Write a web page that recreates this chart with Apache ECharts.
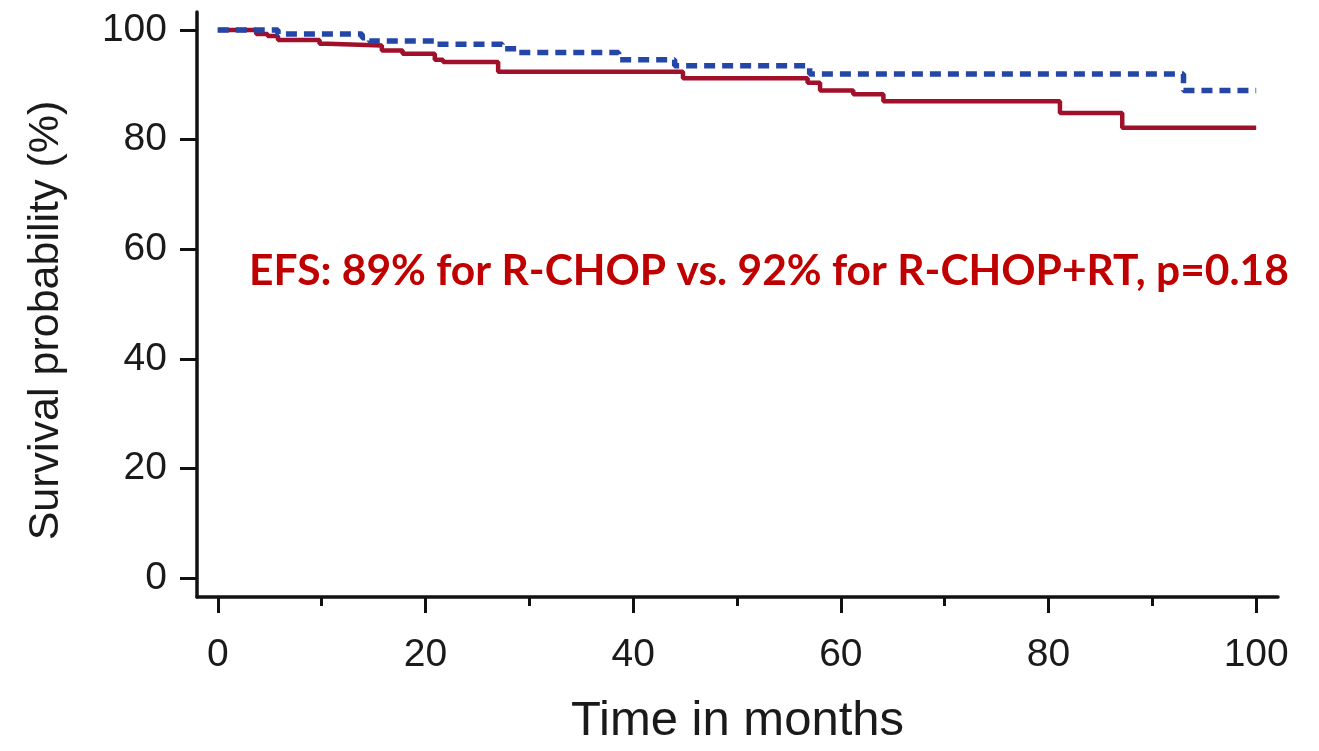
<!DOCTYPE html>
<html>
<head>
<meta charset="utf-8">
<script src="https://cdn.jsdelivr.net/npm/echarts@6/dist/echarts.min.js"></script>
<style>
  html, body { margin: 0; padding: 0; background: #ffffff; }
  #chart { width: 1319px; height: 751px; }
</style>
</head>
<body>
<div id="chart"></div>
<script>
// Kaplan–Meier event-free survival, step points: [month, survival %]
const rchopTimes = [0, 3.7, 4.8, 5.8, 9.8, 10.6, 15.8, 17.8, 20.9, 21.7, 27.0, 44.8, 56.8, 58.0, 61.2, 64.1, 81.1, 87.1, 100];
const rchopSurv  = [100, 99.3, 98.9, 98.2, 97.5, 97.2, 96.3, 95.7, 94.6, 94.2, 92.4, 91.2, 90.4, 89, 88.3, 87.0, 84.9, 82.2, 82.2];

const rchopRtTimes = [0, 5.8, 13.9, 14.6, 21.0, 27.4, 28.8, 38.6, 44.0, 57.0, 93.0, 100];
const rchopRtSurv  = [100, 99.3, 98.6, 98.0, 97.4, 96.6, 95.9, 94.6, 93.5, 92, 89.0, 89.0];

const majorTicks = [0, 20, 40, 60, 80, 100];
const minorTicksX = [10, 30, 50, 70, 90];
const yTicks = [0, 20, 40, 60, 80, 100];

const xTitle = 'Time in months';
const yTitle = 'Survival probability (%)';
const annotation = 'EFS: 89% for R-CHOP vs. 92% for R-CHOP+RT, p=0.18';

const pairs = (xs, ys) => xs.map((x, i) => [x, ys[i]]);

const axisFont = 'Liberation Sans, Arial, Helvetica, sans-serif';

const chart = echarts.init(document.getElementById('chart'), null, { renderer: 'canvas' });

chart.setOption({
  animation: false,
  backgroundColor: '#ffffff',
  grid: { left: 197, right: 41, top: 12, bottom: 139, containLabel: false },
  xAxis: [
    {
      type: 'value',
      min: -2,
      max: 102.1,
      name: xTitle,
      nameLocation: 'middle',
      nameGap: 100,
      nameTextStyle: { fontFamily: axisFont, fontSize: 49, color: '#1a1a1a' },
      axisLine: { show: true, onZero: false, lineStyle: { color: '#111', width: 3.5 } },
      axisTick: { show: true, customValues: majorTicks, length: 16, lineStyle: { color: '#111', width: 3 } },
      axisLabel: { customValues: majorTicks, margin: 39, fontFamily: axisFont, fontSize: 39, color: '#1a1a1a' },
      splitLine: { show: false }
    },
    {
      // minor ticks at the odd tens
      type: 'value',
      min: -2,
      max: 102.1,
      position: 'bottom',
      axisLine: { show: false, onZero: false },
      axisTick: { show: true, customValues: minorTicksX, length: 9, lineStyle: { color: '#111', width: 3 } },
      axisLabel: { show: false },
      splitLine: { show: false }
    }
  ],
  yAxis: {
    type: 'value',
    min: -3.4,
    max: 103.3,
    name: yTitle,
    nameLocation: 'middle',
    nameRotate: 90,
    nameGap: 129,
    nameTextStyle: { fontFamily: axisFont, fontSize: 43, color: '#1a1a1a', padding: [0, 32, 0, 0] },
    axisLine: { show: true, onZero: false, lineStyle: { color: '#111', width: 3.5 } },
    axisTick: { show: true, customValues: yTicks, length: 17, lineStyle: { color: '#111', width: 3 } },
    axisLabel: { customValues: yTicks, margin: 30, fontFamily: axisFont, fontSize: 39, color: '#1a1a1a' },
    splitLine: { show: false }
  },
  series: [
    {
      name: 'R-CHOP',
      type: 'line',
      step: 'end',
      showSymbol: false,
      data: pairs(rchopTimes, rchopSurv),
      lineStyle: { color: '#A0102A', width: 4.5 },
      z: 2
    },
    {
      name: 'R-CHOP+RT',
      type: 'line',
      step: 'end',
      showSymbol: false,
      data: pairs(rchopRtTimes, rchopRtSurv),
      lineStyle: { color: '#2446A6', width: 5.5, type: [11, 7] },
      z: 3
    }
  ],
  graphic: [
    {
      type: 'text',
      left: 249,
      top: 250,
      style: {
        text: annotation,
        fontFamily: 'Lato, Open Sans, sans-serif',
        fontWeight: 'bold',
        fontSize: 42.5,
        fill: '#C00000'
      }
    }
  ]
});
</script>
</body>
</html>
